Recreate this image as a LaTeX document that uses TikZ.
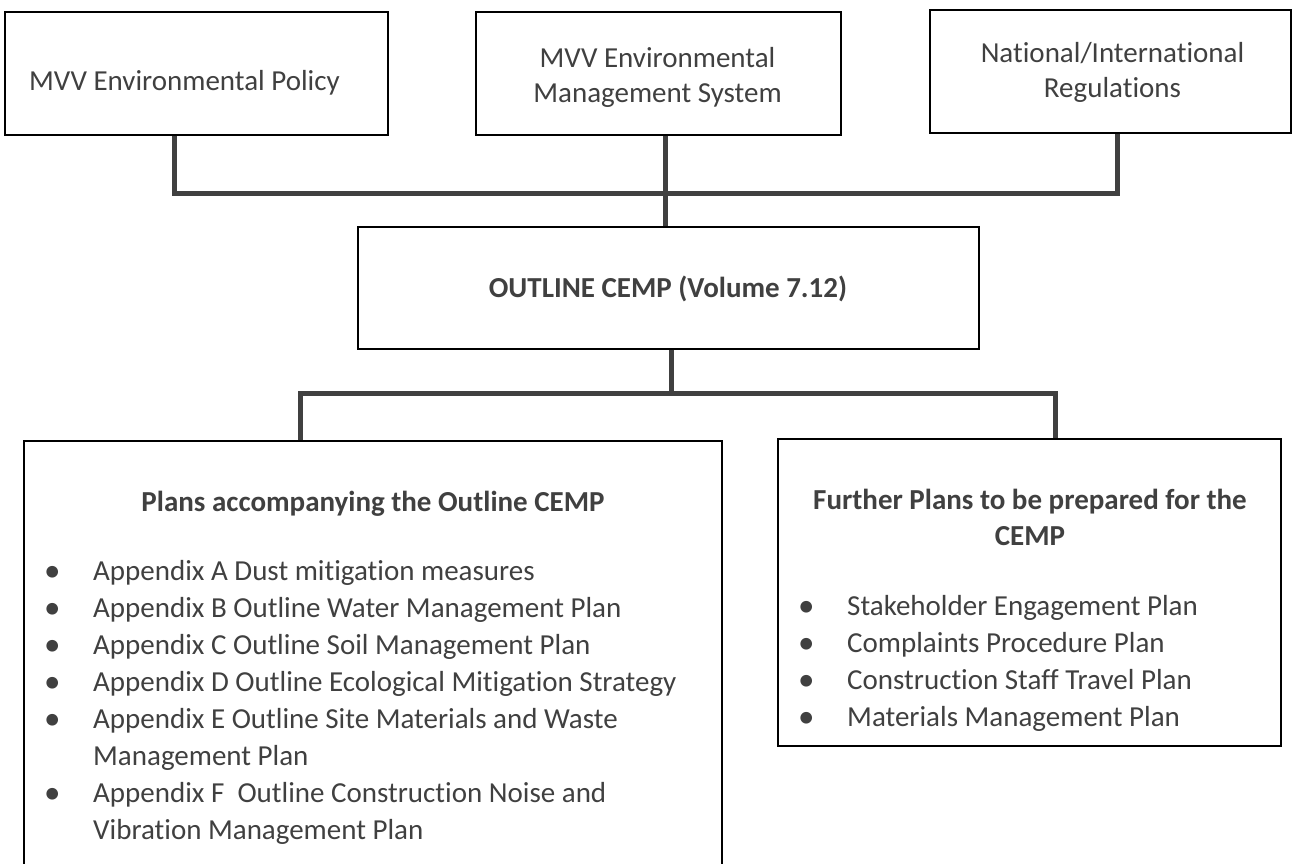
\documentclass[tikz,border=0pt]{standalone}
\usepackage{fontspec}
\setmainfont{Carlito}[Ligatures=NoCommon]
\usepackage{array}
\definecolor{txt}{HTML}{404040}
\newcommand{\bul}{\raisebox{-1pt}{\fontsize{33}{37}\selectfont\textbullet}}
\begin{document}
\begin{tikzpicture}[x=1pt,y=-1pt,
  box/.style={draw=black,line width=1.2pt,inner sep=0pt},
  conn/.style={draw=txt,line width=5pt},
  lbl/.style={inner sep=0pt,text=txt,font=\fontsize{29}{35}\selectfont,anchor=base},
  blbl/.style={lbl,font=\fontsize{29}{35}\selectfont\bfseries},
  lst/.style={inner sep=0pt,text=txt,font=\fontsize{29}{37}\selectfont,anchor=base west}]
\useasboundingbox (0,0) rectangle (1293,863);
\clip (0,0) rectangle (1293,863);
% boxes
\node[box,minimum width=383pt,minimum height=123pt] (b1) at (196.5,73.5) {};
\node[box,minimum width=365pt,minimum height=123pt] (b2) at (658.5,73.5) {};
\node[box,minimum width=361pt,minimum height=123pt] (b3) at (1110.5,71.5) {};
\node[box,minimum width=621pt,minimum height=122pt] (c) at (668.5,288) {};
\node[box,minimum width=698pt,minimum height=439pt] (L) at (373,660.5) {};
\node[box,minimum width=503pt,minimum height=307pt] (R) at (1029.5,592.5) {};
% texts
\node[lbl] (t1) at (184.5,90) {MVV Environmental Policy};
\node[lbl] (t2a) at (657.5,67) {MVV Environmental};
\node[lbl] (t2b) at (657.5,102) {Management System};
\node[lbl] (t3a) at (1112.5,62) {National/International};
\node[lbl] (t3b) at (1112.5,97) {Regulations};
\node[blbl] (tc) at (668,297) {OUTLINE CEMP (Volume 7.12)};
\node[blbl] (tl) at (373,511) {Plans accompanying the Outline CEMP};
\node[blbl] (tra) at (1030,509) {Further Plans to be prepared for the};
\node[blbl] (trb) at (1030,545) {CEMP};
\node[lst] (ll) at (44,580) {\begin{tabular}[t]{@{}p{49pt}@{}l@{}}
\bul & Appendix A Dust mitigation measures\\
\bul & Appendix B Outline Water Management Plan\\
\bul & Appendix C Outline Soil Management Plan\\
\bul & Appendix D Outline Ecological Mitigation Strategy\\
\bul & Appendix E Outline Site Materials and Waste\\
 & Management Plan\\
\bul & Appendix F\ \ Outline Construction Noise and\\
 & Vibration Management Plan
\end{tabular}};
\node[lst] (rl) at (798,615) {\begin{tabular}[t]{@{}p{49pt}@{}l@{}}
\bul & Stakeholder Engagement Plan\\
\bul & Complaints Procedure Plan\\
\bul & Construction Staff Travel Plan\\
\bul & Materials Management Plan
\end{tabular}};
% junction coordinates
\coordinate (j1) at (174,193);
\coordinate (j3) at (1117,193);
\coordinate (k) at (665,193);
\coordinate (m) at (671,393);
\coordinate (l) at (300,393);
\coordinate (r) at (1055,393);
% connectors
\draw[conn] (b1.south -| j1) -- (j1) -- (j3) -- (b3.south -| j3);
\draw[conn] (b2.south -| k) -- (c.north -| k);
\draw[conn] (c.south -| m) -- (m);
\draw[conn] (L.north -| l) -- (l) -- (r) -- (R.north -| r);
\end{tikzpicture}
\end{document}
